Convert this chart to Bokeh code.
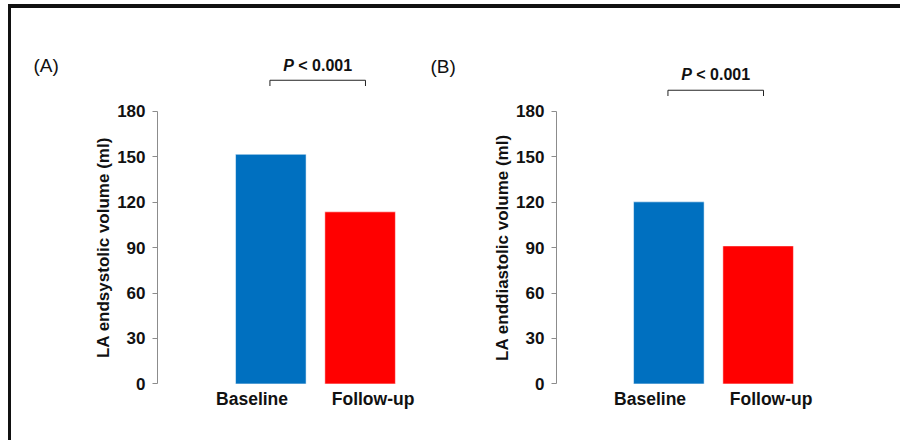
import math
from bokeh.plotting import figure
from bokeh.models import Range1d, FixedTicker, Label
from bokeh.layouts import row
from bokeh.embed import file_html
from bokeh.resources import INLINE
from bokeh.core.properties import value

# ---- data ----
categories = ["Baseline", "Follow-up"]
endsystolic = [151.6, 113.6]
enddiastolic = [120.2, 91.1]
y_ticks = [0, 30, 60, 90, 120, 150, 180]
bar_colors = ["#0070C0", "#FF0000"]
panel_tags = ["(A)", "(B)"]
y_labels = ["LA endsystolic volume (ml)", "LA enddiastolic volume (ml)"]
p_label = ["P", "< 0.001"]
label_shift = [-0.21, 0.145]   # category labels sit slightly apart from the bar centres

FONT = "Liberation Sans"
FONT_V = value(FONT)
INK = "#111111"


def make_panel(values, ylabel, width, xr, axis_x, ylabel_x, bracket_y, text_y):
    xs = list(range(len(categories)))
    p = figure(
        x_range=Range1d(*xr), y_range=Range1d(-7, 226.75),
        width=width, height=432,
        min_border_left=0, min_border_right=0,
        min_border_top=32, min_border_bottom=46,
        output_backend="svg", toolbar_location=None,
    )
    p.outline_line_color = None
    p.xgrid.grid_line_color = None
    p.ygrid.grid_line_color = None

    p.vbar(x=xs, top=values, width=0.79, fill_color=bar_colors,
           line_color="white", line_alpha=0.5, line_width=1)

    # y axis drawn at a fixed location inside the frame
    ya = p.yaxis[0]
    ya.fixed_location = axis_x
    ya.ticker = FixedTicker(ticks=y_ticks)
    ya.bounds = (y_ticks[0], y_ticks[-1])
    ya.axis_line_color = "#8c8c8c"
    ya.major_tick_line_color = "#8c8c8c"
    ya.major_tick_out = 5
    ya.major_tick_in = 0
    ya.minor_tick_line_color = None
    ya.major_label_text_font = FONT
    ya.major_label_text_font_style = "bold"
    ya.major_label_text_font_size = "17px"
    ya.major_label_text_color = INK
    ya.major_label_standoff = 7

    p.add_layout(Label(x=ylabel_x, y=(y_ticks[0] + y_ticks[-1]) / 2, text=ylabel,
                       angle=math.pi / 2, text_align="center", text_baseline="middle",
                       text_font=FONT, text_font_style="bold", text_font_size="17px",
                       text_color=INK))

    # x axis (categories)
    tick_pos = [x + s for x, s in zip(xs, label_shift)]
    xa = p.xaxis[0]
    xa.ticker = FixedTicker(ticks=tick_pos)
    xa.major_label_overrides = {t: c for t, c in zip(tick_pos, categories)}
    xa.axis_line_color = None
    xa.major_tick_line_color = None
    xa.minor_tick_line_color = None
    xa.major_tick_out = 0
    xa.major_tick_in = 0
    xa.major_label_text_font = FONT
    xa.major_label_text_font_style = "bold"
    xa.major_label_text_font_size = "17.5px"
    xa.major_label_text_color = INK
    xa.major_label_standoff = -6

    # significance bracket
    bx0, bx1 = xs[0] - 0.01, xs[1] + 0.06
    tick = 3.8
    p.segment(x0=[bx0, bx0, bx1], y0=[bracket_y] * 3,
              x1=[bx1, bx0, bx1], y1=[bracket_y, bracket_y - tick, bracket_y - tick],
              line_color="#222222", line_width=1)
    mid = (bx0 + bx1) / 2
    p.text(x=[mid], y=[text_y], text=[p_label[0]], x_offset=-23.8,
           text_align="right", text_baseline="middle", text_font=FONT_V,
           text_font_style="bold italic", text_font_size="16px", text_color=INK)
    p.text(x=[mid], y=[text_y], text=[p_label[1]], x_offset=-19.4,
           text_align="left", text_baseline="middle", text_font=FONT_V,
           text_font_style="bold", text_font_size="16px", text_color=INK)
    return p


pa = make_panel(endsystolic, y_labels[0], 458, (-2.904, 2.225), -1.269, -1.874, 200.5, 210.2)
pb = make_panel(enddiastolic, y_labels[1], 431, (-2.232, 2.594), -1.258, -1.862, 193.9, 204.4)

for tag, xx, yy in zip(panel_tags, [-2.658, 1.788], [210.2, 209.5]):
    pa.add_layout(Label(x=xx, y=yy, text=tag, text_font=FONT, text_font_size="19px",
                        text_baseline="middle", text_align="left", text_color=INK))

layout = row(pa, pb, styles={"margin": "4px 0 0 8px",
                             "border-top": "4px solid #111111",
                             "border-left": "3px solid #111111"})

open("out.html", "w").write(file_html(layout, INLINE))
